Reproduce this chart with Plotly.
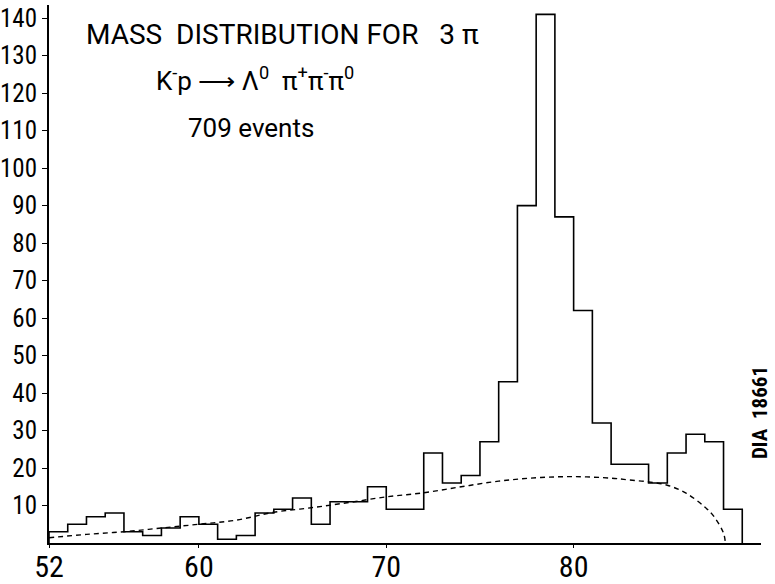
import plotly.graph_objects as go

# Histogram: bins of width 1, starting at 52
bin_start = 52
counts = [3, 5, 7, 8, 3, 2, 4, 7, 5, 1, 2, 8, 9, 12, 5, 11, 11, 15, 9, 9,
          24, 16, 18, 27, 43, 90, 141, 87, 62, 32, 21, 21, 16, 24, 29, 27, 9]

# Dashed background curve
bg_x = [52, 54, 56, 58, 60, 62, 64, 66, 68, 70, 72, 74, 76, 78, 80, 82, 83,
        84, 85, 86, 87, 87.5, 88, 88.1]
bg_y = [1.4, 2.3, 3.0, 4.0, 5.0, 6.1, 8.2, 9.4, 10.8, 12.3, 13.4, 15.0, 16.5,
        17.4, 17.7, 17.3, 16.8, 16.3, 15.4, 13.3, 9.6, 7.0, 2.6, 0.0]

x_ticks = [52, 60, 70, 80]
y_ticks = [10, 20, 30, 40, 50, 60, 70, 80, 90, 100, 110, 120, 130, 140]

edges = [bin_start + i for i in range(len(counts) + 1)]
hx = [edges[0]] + edges[:-1] + [edges[-1]]
hy = [0] + counts + [0]

TICKFONT = "Roboto Condensed, DejaVu Sans Condensed, sans-serif"
TEXTFONT = "Roboto, sans-serif"

fig = go.Figure()
fig.add_trace(go.Scatter(x=hx, y=hy, mode="lines", line=dict(shape="hv", color="black", width=1.6),
                         hoverinfo="skip", showlegend=False))
fig.add_trace(go.Scatter(x=bg_x, y=bg_y, mode="lines",
                         line=dict(shape="spline", color="black", width=1.4, dash="5px,4px"),
                         hoverinfo="skip", showlegend=False))

# plot area in pixels: x 49..761, y 5..543
def px(xp):
    return (xp - 49) / 712.0

def py(yp):
    return (543 - yp) / 538.0

ann = [
    dict(text="MASS  DISTRIBUTION FOR   3 π", x=px(84), y=py(34), size=28),
    dict(text="K<sup>-</sup>p ⟶ Λ<sup>0</sup>  π<sup>+</sup>π<sup>-</sup>π<sup>0</sup>", x=px(154), y=py(79), size=26),
    dict(text="709 events", x=px(186), y=py(128), size=26),
]
for a in ann:
    fig.add_annotation(text=a["text"], x=a["x"], y=a["y"], xref="paper", yref="paper",
                       xanchor="left", yanchor="middle", showarrow=False,
                       font=dict(family=TEXTFONT, size=a["size"], color="black"))
fig.add_annotation(text="<b>DIA  18661</b>", x=px(760), y=py(413), xref="paper", yref="paper",
                   xanchor="center", yanchor="middle", showarrow=False, textangle=-90,
                   font=dict(family=TICKFONT, size=21, color="black"))

fig.update_layout(
    width=775, height=584,
    margin=dict(l=49, r=14, t=5, b=41, autoexpand=False),
    paper_bgcolor="white", plot_bgcolor="white",
    showlegend=False,
    xaxis=dict(range=[52, 90], tickvals=x_ticks, ticktext=[str(v) for v in x_ticks],
               automargin=False,
               showgrid=False, zeroline=False, showline=True, linecolor="black", linewidth=2,
               ticks="outside", ticklen=3, tickwidth=1, tickcolor="black",
               ticklabelstandoff=-7,
               tickfont=dict(family=TICKFONT, size=30, color="black")),
    yaxis=dict(range=[0, 143.5], tickvals=y_ticks, ticktext=[str(v) for v in y_ticks],
               automargin=False,
               showgrid=False, zeroline=False, showline=True, linecolor="black", linewidth=2,
               ticks="outside", ticklen=5, tickwidth=1, tickcolor="black",
               tickfont=dict(family=TICKFONT, size=25, color="black")),
)

fig.write_html("out.html", config={"displayModeBar": False},
               post_script="document.body.style.margin='0px';")
